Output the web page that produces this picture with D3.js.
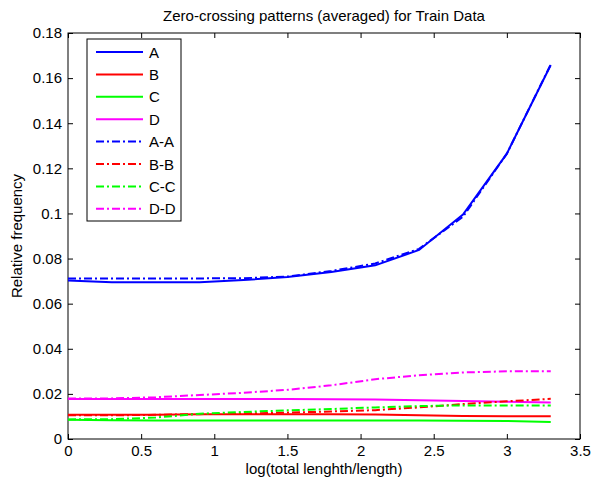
<!DOCTYPE html>
<html>
<head>
<meta charset="utf-8">
<script src="https://cdn.jsdelivr.net/npm/d3@7"></script>
<style>
  body { margin: 0; background: #fff; }
  svg { font-family: "Liberation Sans", Arial, sans-serif; }
</style>
</head>
<body>
<div id="chart"></div>
<script>
// x values, log(total length / length)
var xs = [0, 0.3, 0.6, 0.9, 1.2, 1.5, 1.8, 2.1, 2.4, 2.7, 3.0, 3.3]

// solid series
var A = [0.0703, 0.0695, 0.0695, 0.0695, 0.0705, 0.0718, 0.0740, 0.0770, 0.0838, 0.0995, 0.1265, 0.1658]
var B = [0.0107, 0.0107, 0.0108, 0.0110, 0.0110, 0.0110, 0.0110, 0.0109, 0.0105, 0.0102, 0.0101, 0.0101]
var C = [0.0085, 0.0083, 0.0082, 0.0082, 0.0082, 0.0082, 0.0082, 0.0082, 0.0082, 0.0081, 0.0080, 0.0075]
var D = [0.0177, 0.0177, 0.0177, 0.0177, 0.0177, 0.0177, 0.0176, 0.0175, 0.0172, 0.0168, 0.0165, 0.0162]
// dash-dot series
var AA = [0.0712, 0.0712, 0.0712, 0.0712, 0.0713, 0.0720, 0.0745, 0.0778, 0.0843, 0.0985, 0.1265, 0.1660]
var BB = [0.0105, 0.0105, 0.0107, 0.0110, 0.0113, 0.0117, 0.0122, 0.0128, 0.0140, 0.0155, 0.0167, 0.0178]
var CC = [0.0087, 0.0088, 0.0095, 0.0112, 0.0120, 0.0127, 0.0133, 0.0140, 0.0146, 0.0149, 0.0149, 0.0149]
var DD = [0.0180, 0.0180, 0.0185, 0.0195, 0.0205, 0.0218, 0.0238, 0.0265, 0.0283, 0.0295, 0.0300, 0.0300]

var names = ["A", "B", "C", "D", "A-A", "B-B", "C-C", "D-D"]
var colors = ["#0000ff", "#ff0000", "#00ff00", "#ff00ff", "#0000ff", "#ff0000", "#00ff00", "#ff00ff"]
var series = [A, B, C, D, AA, BB, CC, DD]

var xticks = [0, 0.5, 1, 1.5, 2, 2.5, 3, 3.5]
var yticks = [0, 0.02, 0.04, 0.06, 0.08, 0.1, 0.12, 0.14, 0.16, 0.18]

const width = 594, height = 480
const margin = { top: 33, left: 68, right: 14, bottom: 41 }
const w = width - margin.left - margin.right
const h = height - margin.top - margin.bottom
const fs = 15

var svg = d3.select("#chart").append("svg").attr("width", width).attr("height", height)
var g = svg.append("g").attr("transform", `translate(${margin.left}, ${margin.top})`)

var x = d3.scaleLinear().domain([0, 3.5]).range([0, w])
var y = d3.scaleLinear().domain([0, 0.18]).range([h, 0])

// axes, ticks inside like matlab
function styleAxis(sel) {
    sel.select(".domain").remove()
    sel.selectAll(".tick line").attr("stroke", "#000")
    sel.selectAll("text").attr("font-size", fs).attr("fill", "#000")
}
g.append("g").attr("transform", `translate(0, ${h})`)
    .call(d3.axisBottom(x).tickValues(xticks).tickFormat(d3.format("")).tickSizeInner(-5).tickPadding(6))
    .call(styleAxis)
g.append("g")
    .call(d3.axisTop(x).tickValues(xticks).tickFormat("").tickSizeInner(-5))
    .call(styleAxis)
g.append("g")
    .call(d3.axisLeft(y).tickValues(yticks).tickFormat(d3.format("")).tickSizeInner(-5).tickPadding(6))
    .call(styleAxis)
g.append("g").attr("transform", `translate(${w}, 0)`)
    .call(d3.axisRight(y).tickValues(yticks).tickFormat("").tickSizeInner(-5))
    .call(styleAxis)

g.append("rect").attr("width", w).attr("height", h)
    .attr("fill", "none").attr("stroke", "#000").attr("stroke-width", 1)

var line = d3.line().x((d, i) => x(xs[i])).y(d => y(d))

series.forEach((s, i) => {
    g.append("path")
        .datum(s)
        .attr("d", line)
        .attr("fill", "none")
        .attr("stroke", colors[i])
        .attr("stroke-width", 2)
        .attr("stroke-dasharray", i < 4 ? null : "8,3,2,3")
})

// legend
var leg = g.append("g").attr("transform", "translate(19, 6)")
leg.append("rect").attr("width", 94).attr("height", 182)
    .attr("fill", "#fff").attr("stroke", "#000").attr("stroke-width", 1)
names.forEach((n, i) => {
    var ly = 13 + i * 22.4
    leg.append("line")
        .attr("x1", 9).attr("x2", 56).attr("y1", ly).attr("y2", ly)
        .attr("stroke", colors[i]).attr("stroke-width", 2)
        .attr("stroke-dasharray", i < 4 ? null : "8,3,2,3")
    leg.append("text").attr("x", 62).attr("y", ly + 5.5)
        .attr("font-size", fs).text(n)
})

// title and labels
svg.append("text").attr("x", margin.left + w / 2).attr("y", 21)
    .attr("text-anchor", "middle").attr("font-size", fs)
    .text("Zero-crossing patterns (averaged) for Train Data")
svg.append("text").attr("x", margin.left + w / 2).attr("y", 474)
    .attr("text-anchor", "middle").attr("font-size", fs)
    .text("log(total lenghth/length)")
svg.append("text").attr("transform", `translate(22, ${margin.top + h / 2}) rotate(-90)`)
    .attr("text-anchor", "middle").attr("font-size", fs)
    .text("Relative frequency")
</script>
</body>
</html>
